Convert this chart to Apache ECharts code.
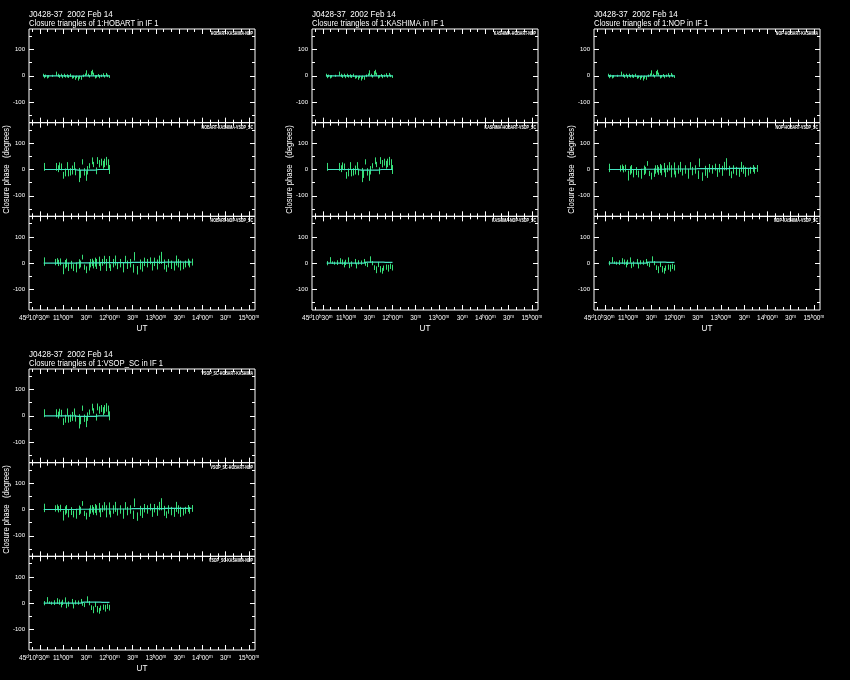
<!DOCTYPE html>
<html>
<head>
<meta charset="utf-8">
<script src="https://cdn.jsdelivr.net/npm/echarts@6/dist/echarts.min.js"></script>
<style>html,body{margin:0;padding:0;background:#000;}#c{width:850px;height:680px;}</style>
</head>
<body>
<div id="c"></div>
<script>
// ---------------- DATA ----------------
const sourceTitle = "J0428-37  2002 Feb 14";
const refAntennas = ["HOBART", "KASHIMA", "NOP", "VSOP_SC"];
// triangle labels shown in each panel (top-right of each sub-plot)
const hobartTriangles  = ["HOBART-KASHIMA-NOP", "HOBART-KASHIMA-VSOP_SC", "HOBART-NOP-VSOP_SC"];
const kashimaTriangles = ["KASHIMA-HOBART-NOP", "KASHIMA-HOBART-VSOP_SC", "KASHIMA-NOP-VSOP_SC"];
const nopTriangles     = ["NOP-HOBART-KASHIMA", "NOP-HOBART-VSOP_SC", "NOP-KASHIMA-VSOP_SC"];
const vsopTriangles    = ["VSOP_SC-HOBART-KASHIMA", "VSOP_SC-HOBART-NOP", "VSOP_SC-KASHIMA-NOP"];
// which triangle data set each sub-plot shows
const hobartSets  = ["A", "B", "C"];
const kashimaSets = ["A", "B", "D"];
const nopSets     = ["A", "C", "D"];
const vsopSets    = ["B", "C", "D"];

// x axis: UT in minutes of day
const utMin = 616, utMax = 908;
const yMin = -178, yMax = 178;
const yTickLabels = [-100, 0, 100];

// Triangle A : HOBART-KASHIMA-NOP
const triA_time  = [634,636,637,639,641,646,651,653,655,657,659,661,663,665,667,669,671,673,675,677,679,681,683,686,688,690,692,694,696,698,699,701,703,705,707,709,711,713,715,717,720];
const triA_phase = [3,-3,0,-4,-2,0,8,2,-2,3,-3,2,-2,0,-3,2,-5,-4,-8,-4,-10,-5,-8,0,4,12,3,-2,10,14,6,-4,-2,2,-3,0,4,-2,5,0,-3];
const triA_err   = [5,6,5,6,5,4,8,6,6,5,6,6,5,6,5,6,6,5,7,5,8,6,7,5,5,9,5,5,8,9,6,6,5,5,6,5,6,5,6,5,5];
const triA_model = [0,0,0,0,0,0,0,0,0,0,0,0,0,0,0,0,-1,-1,-1,-1,-1,-1,-1,0,0,0,0,0,0,0,0,0,0,0,0,0,0,0,0,0,0];

// Triangle B : HOBART-KASHIMA-VSOP_SC
const triB_time  = [636,651,653,655,657,660,662,665,667,669,671,674,676,680,682,685,687,690,691,693,697,699,702,704,706,709,711,713,716,718,720];
const triB_phase = [10,10,3,14,10,-22,-11,15,-12,-9,-2,15,-9,-21,-17,29,-9,-24,-3,14,33,19,-5,34,22,28,18,25,32,20,0];
const triB_err   = [15,15,13,13,13,13,15,13,14,14,17,13,13,27,15,10,14,19,16,10,13,10,13,13,14,13,15,16,16,19,17];
const triB_model = [0,0,0,0,0,0,0,0,0,0,0,0,0,-2,-2,-2,-2,-2,-2,-2,-2,-2,-2,0,0,0,0,0,0,0,0];

// Triangle C : HOBART-NOP-VSOP_SC
const triC_time  = [635,650,652,654,656,660,662,664,667,670,673,677,680,682,684,687,690,693,695,697,699,701,703,706,708,710,713,716,719,721,724,727,730,734,737,740,743,747,750,752,755,759,762,765,768,772,775,778,781,784,787,790,793,796,799,803,806,809,811,815,818,821,823,826];
const triC_phase = [6,4,8,1,5,-23,-4,1,-14,-6,-17,-16,-3,-3,23,-15,-25,-12,0,3,-5,4,-3,7,-12,3,12,-7,4,-17,0,10,-10,0,-16,14,-6,0,-20,26,-27,-5,-13,5,0,9,-12,5,-5,13,20,-5,-20,0,-6,-12,10,0,-9,-10,-3,4,-3,4];
const triC_err   = [16,12,11,12,13,19,16,16,16,15,13,19,18,13,9,10,13,16,16,14,15,17,19,18,17,13,16,23,23,13,16,19,13,16,19,14,16,16,16,16,16,19,19,16,16,13,16,16,19,16,23,19,13,16,16,16,19,16,19,13,13,13,13,13];
const triC_model = [0,0,0,0,0,0,0,0,0,0,0,0,1,1,1,1,1,1,1,1,1,1,1,1,2,2,2,2,2,2,2,2,2,2,2,2,2,2,3,3,3,3,3,3,3,3,3,3,3,3,3,3,4,4,4,4,4,4,4,4,4,4,4,4];

// Triangle D : KASHIMA-NOP-VSOP_SC
const triD_time  = [635,636,639,642,644,648,652,655,657,659,662,664,667,671,673,676,679,683,685,687,691,694,696,699,701,704,706,708,711,714,717,720];
const triD_phase = [0,0,12,2,0,2,8,4,-5,3,12,-9,-3,6,-10,3,2,8,-2,-7,14,0,-17,-25,-5,-23,-29,-19,-15,-19,-12,-17];
const triD_err   = [8,6,11,5,6,9,11,10,11,10,10,10,10,10,10,8,8,8,8,8,12,8,9,13,10,12,11,10,10,13,10,11];
const triD_model = [0,0,0,0,0,0,0,0,0,0,0,0,0,0,0,0,0,0,0,4,4,4,4,4,4,4,4,4,3,3,3,3];

// ---------------- BUILD ----------------
const sets = {
  A: {t: triA_time, p: triA_phase, e: triA_err, m: triA_model},
  B: {t: triB_time, p: triB_phase, e: triB_err, m: triB_model},
  C: {t: triC_time, p: triC_phase, e: triC_err, m: triC_model},
  D: {t: triD_time, p: triD_phase, e: triD_err, m: triD_model}
};
const panels = [
  {ant: refAntennas[0], left: 29,  top: 29,  sets: hobartSets,  names: hobartTriangles},
  {ant: refAntennas[1], left: 312, top: 29,  sets: kashimaSets, names: kashimaTriangles},
  {ant: refAntennas[2], left: 594, top: 29,  sets: nopSets,     names: nopTriangles},
  {ant: refAntennas[3], left: 29,  top: 369, sets: vsopSets,    names: vsopTriangles}
];
const W = 226, H = 93.67;
const FONT = 'Liberation Sans';
const errColor = '#36df78', modelColor = '#46e4c2';

function range(a, b, s) { const r = []; for (let v = a; v <= b; v += s) r.push(v); return r; }
const xMinor = range(620, 900, 10);
const xMajor = range(630, 900, 30);
const xLabelMain = range(660, 900, 30);
const xLabelFirst = [630];
const yMinorT = [-150, -50, 50, 150];
const yMajorT = [-100, 0, 100];

function fmtTime(v) {
  v = Math.round(v);
  const h = Math.floor(v / 60), m = v % 60;
  const mm = String(m).padStart(2, '0');
  if (v === 630) return '{n|45}{s|d}{n|10}{s|h}{n|30}{s|m}{sp| }';
  if (m === 0) return '{n|' + h + '}{s|h}{n|00}{s|m}';
  return '{n|' + mm + '}{s|m}';
}
const rich = {
  n: {fontSize: 6.5, color: '#fff', fontFamily: FONT, lineHeight: 8},
  s: {fontSize: 4.5, color: '#fff', fontFamily: FONT, verticalAlign: 'top', lineHeight: 8},
  sp: {width: 11, fontSize: 6}
};
function xLabel(vals) {
  return {show: true, customValues: vals, formatter: fmtTime, rich: rich, margin: 4, color: '#fff',
    showMinLabel: true, showMaxLabel: true, hideOverlap: false};
}

const option = {
  backgroundColor: '#000', animation: false,
  grid: [], xAxis: [], yAxis: [], series: [], graphic: []
};

panels.forEach(p => {
  p.sets.forEach((sk, k) => {
    const gi = option.grid.length;
    option.grid.push({left: p.left, top: p.top + k * H, width: W, height: H, show: true,
      borderColor: '#fff', borderWidth: 1, backgroundColor: 'transparent',
      containLabel: false, outerBoundsMode: 'none'});
    const isBottom = k === 2;
    const xb = {type: 'value', gridIndex: gi, min: utMin, max: utMax,
      axisLine: {show: false, onZero: false}, splitLine: {show: false}, axisLabel: {show: false}};
    const xi = option.xAxis.length;
    option.xAxis.push(Object.assign({}, xb, {position: 'bottom',
      axisTick: {show: true, inside: true, length: 3, customValues: xMinor, lineStyle: {color: '#fff'}},
      axisLabel: isBottom ? xLabel(xLabelMain) : {show: false}}));
    option.xAxis.push(Object.assign({}, xb, {position: 'bottom',
      axisTick: {show: true, inside: true, length: 5, customValues: xMajor, lineStyle: {color: '#fff'}},
      axisLabel: isBottom ? xLabel(xLabelFirst) : {show: false}}));
    option.xAxis.push(Object.assign({}, xb, {position: 'top',
      axisTick: {show: true, inside: true, length: 3, customValues: xMinor, lineStyle: {color: '#fff'}}}));
    option.xAxis.push(Object.assign({}, xb, {position: 'top',
      axisTick: {show: true, inside: true, length: 5, customValues: xMajor, lineStyle: {color: '#fff'}}}));

    const yb = {type: 'value', gridIndex: gi, min: yMin, max: yMax,
      axisLine: {show: false, onZero: false}, splitLine: {show: false}, axisLabel: {show: false}};
    const yi = option.yAxis.length;
    option.yAxis.push(Object.assign({}, yb, {position: 'left',
      axisTick: {show: true, inside: true, length: 5, customValues: yMajorT, lineStyle: {color: '#fff'}},
      axisLabel: {show: true, customValues: yTickLabels, color: '#fff', fontSize: 6, fontFamily: FONT, margin: 4,
        showMinLabel: true, showMaxLabel: true, formatter: v => String(v)}}));
    option.yAxis.push(Object.assign({}, yb, {position: 'left',
      axisTick: {show: true, inside: true, length: 3, customValues: yMinorT, lineStyle: {color: '#fff'}}}));
    option.yAxis.push(Object.assign({}, yb, {position: 'right',
      axisTick: {show: true, inside: true, length: 5, customValues: yMajorT, lineStyle: {color: '#fff'}}}));
    option.yAxis.push(Object.assign({}, yb, {position: 'right',
      axisTick: {show: true, inside: true, length: 3, customValues: yMinorT, lineStyle: {color: '#fff'}}}));

    const d = sets[sk];
    option.series.push({
      type: 'custom', xAxisIndex: xi, yAxisIndex: yi, clip: true, z: 2,
      encode: {x: 0, y: 1},
      data: d.t.map((t, i) => [t, d.p[i], d.e[i]]),
      renderItem: function (params, api) {
        const t = api.value(0), v = api.value(1), e = api.value(2);
        const a = api.coord([t, v - e]), b = api.coord([t, v + e]);
        const x = Math.round(a[0]) + 0.5;
        return {type: 'line', shape: {x1: x, y1: a[1], x2: x, y2: b[1]},
          style: {stroke: errColor, lineWidth: 1}};
      }
    });
    option.series.push({
      type: 'line', xAxisIndex: xi, yAxisIndex: yi, z: 3, symbol: 'none',
      lineStyle: {color: modelColor, width: 1.2},
      data: d.t.map((t, i) => [t, d.m[i]])
    });

    option.graphic.push({type: 'text', x: p.left + W - 2, y: p.top + k * H + 4.5, scaleX: 0.72,
      style: {text: p.names[k], fill: '#fff', fontSize: 5, fontWeight: 'bold', fontFamily: FONT,
        align: 'right', verticalAlign: 'middle'}});
  });

  option.graphic.push({type: 'text', x: p.left, y: p.top - 14.5, scaleX: 0.9,
    style: {text: sourceTitle, fill: '#fff', fontSize: 9, fontFamily: FONT, align: 'left', verticalAlign: 'middle'}});
  option.graphic.push({type: 'text', x: p.left, y: p.top - 5.5, scaleX: 0.85,
    style: {text: 'Closure triangles of 1:' + p.ant + ' in IF 1', fill: '#fff', fontSize: 9, fontFamily: FONT,
      align: 'left', verticalAlign: 'middle'}});
  option.graphic.push({type: 'text', x: p.left - 22.5, y: p.top + 1.5 * H, rotation: Math.PI / 2, scaleX: 0.9,
    style: {text: 'Closure phase   (degrees)', fill: '#fff', fontSize: 8.5, fontFamily: FONT,
      align: 'center', verticalAlign: 'middle'}});
  option.graphic.push({type: 'text', x: p.left + 113, y: p.top + 3 * H + 18.5, scaleX: 0.9,
    style: {text: 'UT', fill: '#fff', fontSize: 9, fontFamily: FONT, align: 'center', verticalAlign: 'middle'}});
});

const chart = echarts.init(document.getElementById('c'), null, {renderer: 'canvas'});
chart.setOption(option);
</script>
</body>
</html>
